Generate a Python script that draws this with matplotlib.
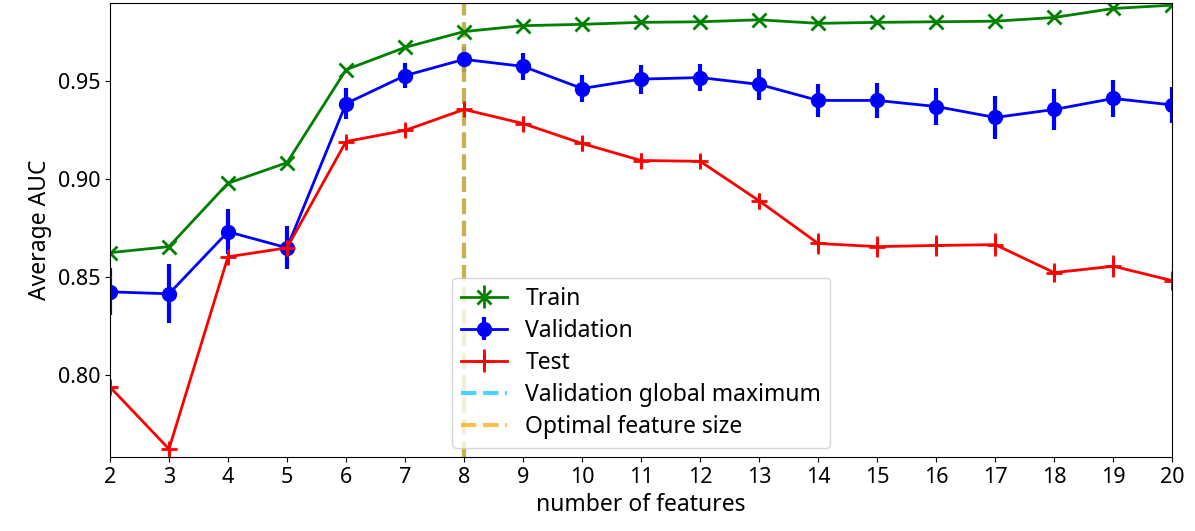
import matplotlib.pyplot as plt

plt.rcParams['font.family'] = ['Noto Sans', 'DejaVu Sans']

n_features = list(range(2, 21))

train_auc = [0.8625, 0.8656, 0.8980, 0.9085, 0.9560, 0.9674, 0.9755, 0.9785, 0.9792,
             0.9802, 0.9805, 0.9815, 0.9797, 0.9802, 0.9805, 0.9808, 0.9827, 0.9873, 0.9890]
train_err = [0.001] * 19

val_auc = [0.8425, 0.8415, 0.8732, 0.8650, 0.9387, 0.9530, 0.9613, 0.9577, 0.9464,
           0.9512, 0.9520, 0.9485, 0.9403, 0.9403, 0.9372, 0.9316, 0.9357, 0.9413, 0.9380]
val_err = [0.012, 0.015, 0.0115, 0.011, 0.008, 0.0064, 0.0064, 0.007, 0.007,
           0.0074, 0.0068, 0.008, 0.0085, 0.009, 0.0096, 0.011, 0.0107, 0.0094, 0.0094]

test_auc = [0.7939, 0.7622, 0.8604, 0.8650, 0.9193, 0.9250, 0.9357, 0.9285, 0.9183,
            0.9096, 0.9092, 0.8890, 0.8672, 0.8656, 0.8662, 0.8666, 0.8523, 0.8556, 0.8482]
test_err = [0.003, 0.003, 0.003, 0.004, 0.003, 0.003, 0.004, 0.0036, 0.0038,
            0.004, 0.0035, 0.004, 0.0055, 0.0055, 0.0055, 0.006, 0.005, 0.0056, 0.005]

best_n = 8

fig = plt.figure(figsize=(11.95, 5.31), dpi=100)
ax = fig.add_axes([0.092, 0.139, 0.889, 0.855])

h1 = ax.errorbar(n_features, train_auc, yerr=train_err, color='green', marker='x', ms=10,
                 mew=2, lw=2, label='Train')
h2 = ax.errorbar(n_features, val_auc, yerr=val_err, color='blue', marker='o', ms=10,
                 lw=2, elinewidth=3, label='Validation')
h3 = ax.errorbar(n_features, test_auc, yerr=test_err, color='red', marker='+', ms=11,
                 mew=2, lw=2, label='Test')
# both vertical lines sit on top of each other at the best size
h4 = ax.axvline(best_n, color='deepskyblue', ls='--', lw=3, alpha=0.7, label='Validation global maximum')
h5 = ax.axvline(best_n, color='orange', ls='--', lw=3, alpha=0.7, label='Optimal feature size')

ax.set_xlim(2, 20)
ax.set_ylim(0.758, 0.990)
ax.set_xticks(n_features)
ax.set_yticks([0.80, 0.85, 0.90, 0.95])
ax.tick_params(labelsize=15.5)
ax.set_xlabel('number of features', fontsize=16.5)
ax.set_ylabel('Average AUC', fontsize=16.5)
ax.legend([h1, h2, h3, h4, h5],
          ['Train', 'Validation', 'Test', 'Validation global maximum', 'Optimal feature size'],
          loc='lower center', fontsize=16.5, labelspacing=0.35, borderaxespad=0.4)

fig.savefig('out.png', dpi=100)
